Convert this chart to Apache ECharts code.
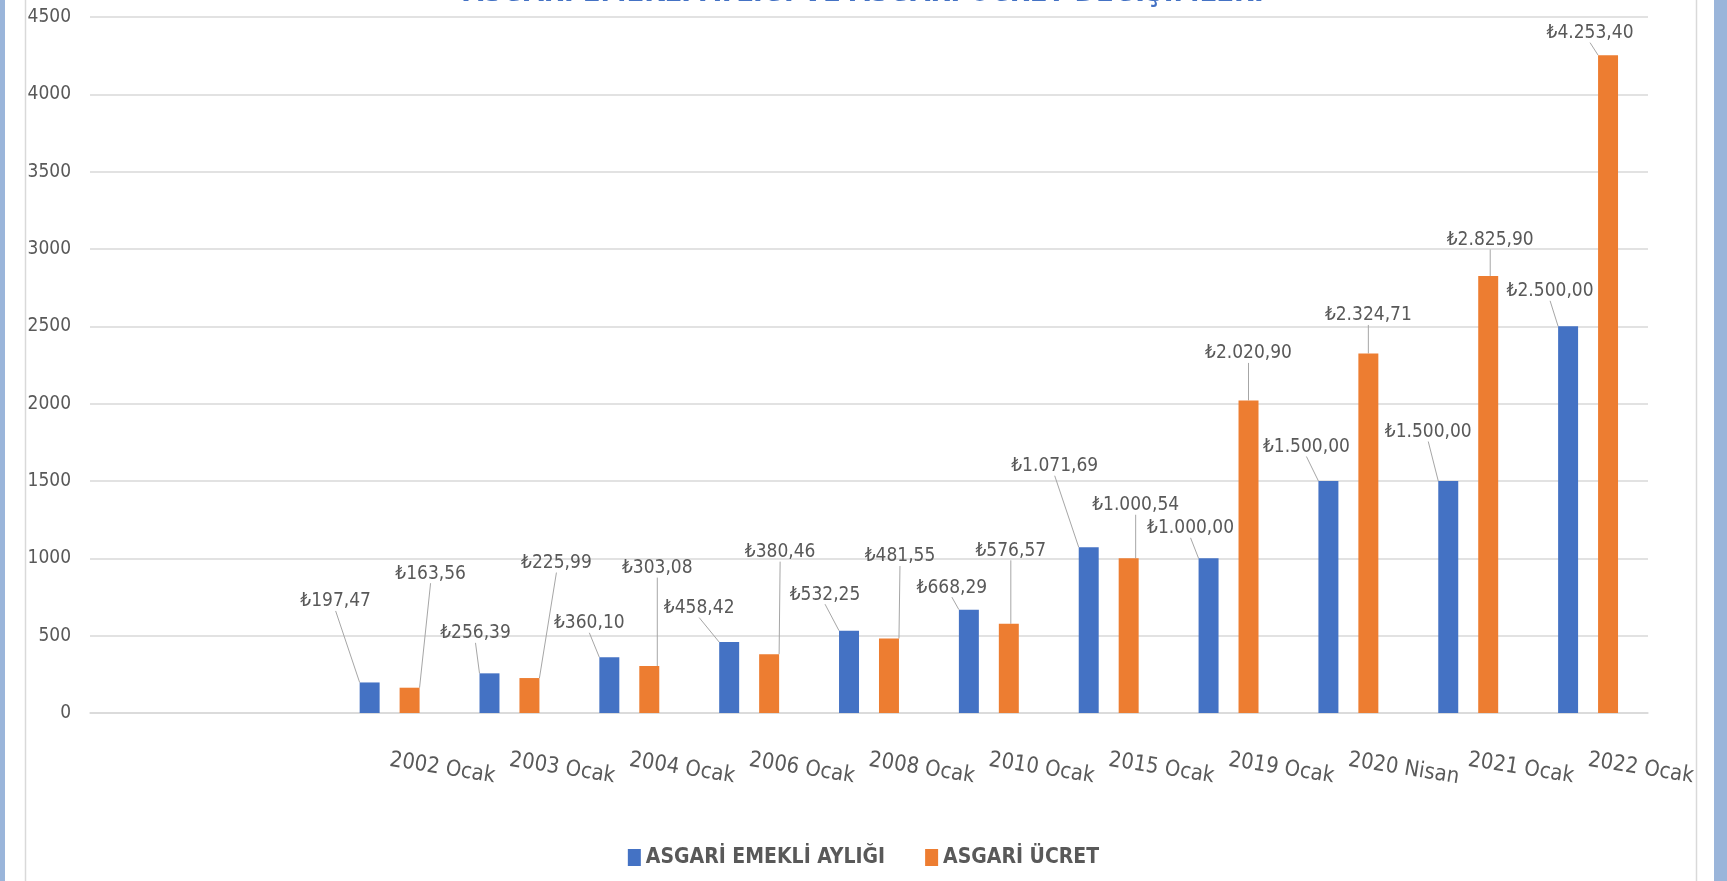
<!DOCTYPE html>
<html>
<head>
<meta charset="utf-8">
<script src="https://cdn.jsdelivr.net/npm/echarts@6/dist/echarts.min.js"></script>
<style>
  html, body { margin: 0; padding: 0; background: #9ab5da; }
  #chart { width: 1727px; height: 881px; }
</style>
</head>
<body>
<div id="chart"></div>
<script>
// ------------------------------
// DATA
// ------------------------------
const categories = ["", "", "2002 Ocak", "2003 Ocak", "2004 Ocak", "2006 Ocak", "2008 Ocak",
  "2010 Ocak", "2015 Ocak", "2019 Ocak", "2020 Nisan", "2021 Ocak", "2022 Ocak"];
const emekliAyligi = [null, null, 197.47, 256.39, 360.10, 458.42, 532.25, 668.29, 1071.69, 1000.00, 1500.00, 1500.00, 2500.00];
const asgariUcret = [null, null, 163.56, 225.99, 303.08, 380.46, 481.55, 576.57, 1000.54, 2020.90, 2324.71, 2825.90, 4253.40];
const seriesNames = ["ASGARİ EMEKLİ AYLIĞI", "ASGARİ ÜCRET"];
const chartTitle = "ASGARİ EMEKLİ AYLIĞI VE ASGARİ ÜCRET DEĞİŞİMLERİ";

// callout shift of each label from the top centre of its bar (px)
const emekliLabelShift = [null, null, [-34, -81], [-14, -40], [-20, -34], [-30, -34], [-24, -36],
  [-17, -22], [-34, -81], [-18, -30], [-22, -34], [-20, -49], [-18, -35]];
const ucretLabelShift = [null, null, [21, -114], [27, -115], [8, -98], [11, -102], [11, -82],
  [2, -73], [7, -53], [0, -47], [0, -38], [2, -36], [-18, -22]];

// ------------------------------
// HELPERS
// ------------------------------
const FONT = "'DejaVu Sans Condensed', 'Liberation Sans', sans-serif";
const TEXT = "#595959";

let fmtTL = v => {
  let [i, d] = v.toFixed(2).split(".");
  i = i.replace(/\B(?=(\d{3})+(?!\d))/g, ".");
  return "₺" + i + "," + d;
};

let calloutLayout = shifts => params => {
  let s = shifts[params.dataIndex];
  if (!s) return {};
  return {
    x: params.rect.x + params.rect.width / 2 + s[0],
    y: params.rect.y + s[1],
    align: "center",
    verticalAlign: "middle"
  };
};

let barSeries = (name, data, color, shifts) => ({
  name: name,
  type: "bar",
  data: data,
  barGap: "100%",
  barCategoryGap: "50%",
  itemStyle: { color: color },
  label: {
    show: true,
    position: "top",
    formatter: p => fmtTL(p.value),
    color: TEXT,
    fontFamily: FONT,
    fontSize: 19
  },
  labelLine: { show: true, lineStyle: { color: "#a6a6a6", width: 1 } },
  labelLayout: calloutLayout(shifts)
});

// ------------------------------
// CHART
// ------------------------------
let chart = echarts.init(document.getElementById("chart"));

chart.setOption({
  backgroundColor: "#9ab5da",
  animation: false,
  title: {
    text: chartTitle,
    left: "center",
    top: -26,
    textStyle: { color: "#4472c4", fontFamily: FONT, fontSize: 29, fontWeight: "bold" }
  },
  graphic: [
    { type: "rect", z: -10, shape: { x: 5, y: -5, width: 1709, height: 900 }, style: { fill: "#ffffff" } },
    { type: "rect", z: -9, shape: { x: 25.5, y: -5, width: 1671, height: 900 },
      style: { fill: "none", stroke: "#d9d9d9", lineWidth: 1.5 } }
  ],
  legend: {
    data: seriesNames,
    left: "center",
    top: 842,
    icon: "rect",
    itemWidth: 13,
    itemHeight: 17,
    itemGap: 40,
    textStyle: { color: TEXT, fontFamily: FONT, fontSize: 21, fontWeight: "bold" }
  },
  grid: { left: 90, right: 79, top: 17, bottom: 168 },
  xAxis: {
    type: "category",
    data: categories,
    axisTick: { show: false },
    axisLine: { lineStyle: { color: "#d9d9d9", width: 1.5 } },
    axisLabel: { color: TEXT, fontFamily: FONT, fontSize: 22, rotate: -9, margin: 47, interval: 0 }
  },
  yAxis: {
    type: "value",
    min: 0,
    max: 4500,
    interval: 500,
    axisLabel: { color: TEXT, fontFamily: FONT, fontSize: 19, margin: 19, formatter: v => String(v) },
    splitLine: { lineStyle: { color: "#d9d9d9", width: 1.5 } }
  },
  series: [
    barSeries(seriesNames[0], emekliAyligi, "#4472c4", emekliLabelShift),
    barSeries(seriesNames[1], asgariUcret, "#ed7d31", ucretLabelShift)
  ]
});
</script>
</body>
</html>
